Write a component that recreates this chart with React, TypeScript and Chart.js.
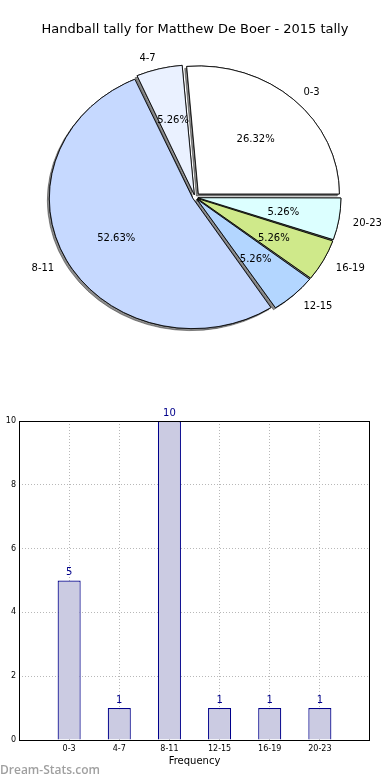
import React, { useEffect, useRef } from 'react';
import { Chart, registerables } from 'chart.js';

Chart.register(...registerables);

const TITLE = 'Handball tally for Matthew De Boer - 2015 tally';
const categories = ['0-3', '4-7', '8-11', '12-15', '16-19', '20-23'];
const counts = [5, 1, 10, 1, 1, 1];
const pieColors = ['#ffffff', '#eaf1ff', '#c6d9ff', '#b3d6ff', '#cfe98a', '#dcffff'];
const yTicks = [0, 2, 4, 6, 8, 10];
const X_TITLE = 'Frequency';
const WATERMARK = 'Dream-Stats.com';

// pie drawn clockwise from 3 o'clock, so reverse order to mimic counter-clockwise layout
const pieLabels = [...categories].reverse();
const pieValues = [...counts].reverse();
const pieFill = [...pieColors].reverse();

const FONT = 'DejaVu Sans';
const EXPLODE = 4.5; // px
const RY = 128;
const SX = 141 / 128;
const TEXT_DY = 2;

const total = counts.reduce((a, b) => a + b, 0);

function fixFactor(v: number) {
  const circ = (v / total) * Math.PI * 2;
  return 1 - Math.sin(Math.min(Math.PI, circ));
}

const piePlugin = {
  id: 'piePlugin',
  beforeDatasetsDraw(chart: any) {
    const ctx = chart.ctx;
    const meta = chart.getDatasetMeta(0);
    const a0 = meta.data[0];
    const cx = a0.x;
    const cy = a0.y;
    ctx.save();
    ctx.translate(cx, cy);
    ctx.scale(SX, 1);
    ctx.translate(-cx, -cy);
    ctx.save();
    ctx.shadowColor = 'rgba(0,0,0,0.45)';
    ctx.shadowOffsetX = -2;
    ctx.shadowOffsetY = 2;
    ctx.shadowBlur = 0;
    meta.data.forEach((arc: any) => arc.draw(ctx));
    ctx.restore();
  },
  afterDatasetsDraw(chart: any) {
    const ctx = chart.ctx;
    ctx.restore();
    const meta = chart.getDatasetMeta(0);
    ctx.save();
    ctx.fillStyle = '#000';
    ctx.font = `10px "${FONT}"`;
    ctx.textBaseline = 'middle';
    meta.data.forEach((arc: any, i: number) => {
      const p = arc.getProps(['x', 'y', 'startAngle', 'endAngle', 'outerRadius']);
      const a = (p.startAngle + p.endAngle) / 2;
      const v = pieValues[i];
      const d = EXPLODE;
      const dx = Math.cos(a);
      const dy = Math.sin(a);
      const r = p.outerRadius;
      const pct = ((v / total) * 100).toFixed(2) + '%';
      ctx.textAlign = 'center';
      ctx.fillText(pct, p.x + (d + 0.6 * r) * dx * SX, p.y + (d + 0.6 * r) * dy + TEXT_DY);
      ctx.textAlign = dx > 0 ? 'left' : 'right';
      ctx.fillText(pieLabels[i], p.x + (d + 1.1 * r) * dx * SX, p.y + (d + 1.1 * r) * dy + TEXT_DY);
    });
    ctx.restore();
  },
};

const barPlugin = {
  id: 'barPlugin',
  afterDatasetsDraw(chart: any) {
    const ctx = chart.ctx;
    const { left, top, right, bottom } = chart.chartArea;
    ctx.save();
    ctx.strokeStyle = '#000';
    ctx.lineWidth = 1;
    ctx.strokeRect(left + 0.5, top + 0.5, right - left - 1, bottom - top);
    const meta = chart.getDatasetMeta(0);
    ctx.fillStyle = '#00008b';
    ctx.font = `10px "${FONT}"`;
    ctx.textAlign = 'center';
    ctx.textBaseline = 'middle';
    meta.data.forEach((bar: any, i: number) => {
      ctx.fillText(String(counts[i]), bar.x, bar.y - 8);
    });
    ctx.restore();
  },
};

export default function App() {
  const pieRef = useRef<HTMLCanvasElement>(null);
  const barRef = useRef<HTMLCanvasElement>(null);

  useEffect(() => {
    Chart.defaults.font.family = FONT;
    Chart.defaults.color = '#000';

    const pie = new Chart(pieRef.current as HTMLCanvasElement, {
      type: 'pie',
      data: {
        labels: pieLabels,
        datasets: [
          {
            data: pieValues,
            backgroundColor: pieFill,
            borderColor: '#000',
            borderWidth: 0.8,
            radius: RY,
            clip: false,
            offset: (c: any) => {
              const v = pieValues[c.dataIndex];
              return (4 * EXPLODE) / (1 + fixFactor(v));
            },
          } as any,
        ],
      },
      options: {
        responsive: false,
        animation: false,
        rotation: 90,
        layout: { padding: { left: 2, right: 2, top: 0, bottom: 0 } },
        plugins: {
          legend: { display: false },
          tooltip: { enabled: false },
          title: {
            display: true,
            text: TITLE,
            color: '#000',
            font: { family: FONT, size: 13, weight: 'normal' },
            padding: { top: 22, bottom: 0 },
          },
        },
        events: [],
      } as any,
      plugins: [piePlugin],
    });

    const bar = new Chart(barRef.current as HTMLCanvasElement, {
      type: 'bar',
      data: {
        datasets: [
          {
            data: counts.map((v, i) => ({ x: i + 1, y: v })),
            backgroundColor: '#cbcbe2',
            borderColor: '#00008b',
            borderWidth: 1.2,
            barPercentage: 0.46,
            categoryPercentage: 1,
          },
        ],
      },
      options: {
        responsive: false,
        animation: false,
        events: [],
        layout: { padding: { left: 0, right: 20, top: 31, bottom: 0 } },
        plugins: { legend: { display: false }, tooltip: { enabled: false } },
        scales: {
          x: {
            type: 'linear',
            min: 0,
            max: 7,
            offset: false,
            afterFit: (s: any) => {
              s.height = 40;
            },
            ticks: {
              stepSize: 1,
              autoSkip: false,
              maxRotation: 0,
              padding: 4,
              color: '#000',
              font: { size: 8, family: FONT },
              callback: (v: any) => categories[v - 1] ?? '',
            },
            grid: {
              offset: false,
              drawTicks: false,
              color: (c: any) =>
                c.tick && c.tick.value >= 1 && c.tick.value <= categories.length ? '#b8b8b8' : 'rgba(0,0,0,0)',
            },
            border: { display: false, dash: [1, 2] },
            title: {
              display: true,
              text: X_TITLE,
              color: '#000',
              font: { size: 10, family: FONT },
              padding: { top: 0, bottom: 13 },
            },
          },
          y: {
            min: yTicks[0],
            max: yTicks[yTicks.length - 1],
            afterFit: (s: any) => {
              s.width = 19;
            },
            ticks: {
              stepSize: 2,
              padding: 3,
              color: '#000',
              font: { size: 8, family: FONT },
            },
            grid: { drawTicks: false, color: '#b8b8b8' },
            border: { display: false, dash: [1, 2] },
          },
        },
      } as any,
      plugins: [barPlugin],
    });

    return () => {
      pie.destroy();
      bar.destroy();
    };
  }, []);

  return (
    <div style={{ position: 'absolute', left: 0, top: 0, width: 390, height: 780, background: '#fff' }}>
      <canvas ref={pieRef} width={390} height={357} style={{ position: 'absolute', left: 0, top: 0 }} />
      <canvas ref={barRef} width={390} height={390} style={{ position: 'absolute', left: 0, top: 390 }} />
      <div
        style={{
          position: 'absolute',
          left: 0,
          top: 762,
          fontFamily: '"Open Sans", "DejaVu Sans"',
          fontSize: 12,
          fontWeight: 600,
          color: '#a0a0a0',
          lineHeight: '16px',
          whiteSpace: 'nowrap',
        }}
      >
        {WATERMARK}
      </div>
    </div>
  );
}
